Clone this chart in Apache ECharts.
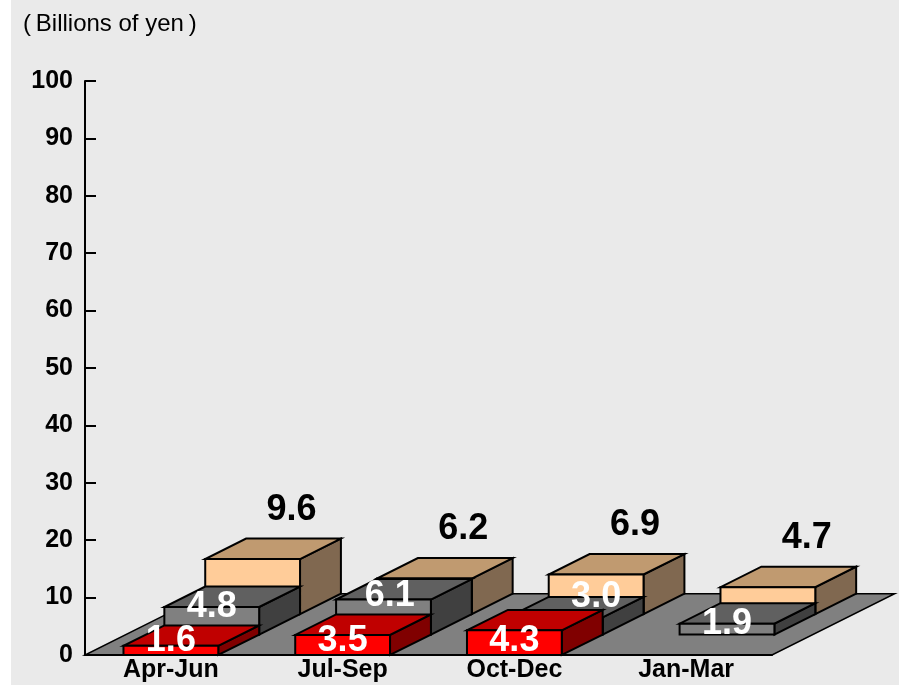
<!DOCTYPE html>
<html>
<head>
<meta charset="utf-8">
<script src="https://cdn.jsdelivr.net/npm/echarts@6/dist/echarts.min.js"></script>
<style>
  html, body { margin: 0; padding: 0; background: #ffffff; }
  #chart { position: absolute; left: 11px; top: 0; width: 888px; height: 685px; }
</style>
</head>
<body>
<div id="chart"></div>
<script>
// Quarterly values, billions of yen
const categories   = ['Apr-Jun', 'Jul-Sep', 'Oct-Dec', 'Jan-Mar'];
const frontValues  = [1.6, 3.5, 4.3, null];  // red, front row
const middleValues = [4.8, 6.1, 3.0, 1.9];   // gray, middle row
const backValues   = [9.6, 6.2, 6.9, 4.7];   // peach, back row

// Pseudo-3D geometry, as fractions of one category band
const BAR_FRAC = 0.552;    // bar width
const DEPTH_FRAC = 0.238;  // horizontal depth of one row
const RISE = 0.5;          // vertical rise per unit of depth
const ROWS = 3;

const FONT = '"Liberation Sans", Arial, Helvetica, sans-serif';

const palettes = {
  front:  { face: '#ff0000', top: '#c00000', side: '#800000' },
  middle: { face: '#808080', top: '#606060', side: '#404040' },
  back:   { face: '#ffcc99', top: '#c09a70', side: '#806850' }
};

function geometry(api, i, v, row) {
  const band = api.size([1, 0])[0];
  const w = band * BAR_FRAC;
  const dx = band * DEPTH_FRAC;
  const dy = dx * RISE;
  const base = api.coord([i, 0]);
  const top = api.coord([i, v]);
  const x0 = base[0] - w / 2 + row * dx;
  const x1 = x0 + w;
  const yb = base[1] - row * dy;
  const yt = top[1] - row * dy;
  return { x0, x1, yb, yt, dx, dy, cx: (x0 + x1) / 2 };
}

function boxShapes(g, pal) {
  const line = { stroke: '#000', lineWidth: 2, lineJoin: 'miter' };
  return [
    { type: 'polygon', shape: { points: [[g.x1, g.yb], [g.x1, g.yt], [g.x1 + g.dx, g.yt - g.dy], [g.x1 + g.dx, g.yb - g.dy]] },
      style: Object.assign({ fill: pal.side }, line) },
    { type: 'polygon', shape: { points: [[g.x0, g.yt], [g.x1, g.yt], [g.x1 + g.dx, g.yt - g.dy], [g.x0 + g.dx, g.yt - g.dy]] },
      style: Object.assign({ fill: pal.top }, line) },
    { type: 'rect', shape: { x: g.x0, y: g.yt, width: g.x1 - g.x0, height: g.yb - g.yt },
      style: Object.assign({ fill: pal.face }, line) }
  ];
}

function valueText(text, x, y, color) {
  return {
    type: 'text', z2: 10,
    style: { text: text, x: x, y: y, fill: color, align: 'center', verticalAlign: 'middle',
             font: 'bold 36px ' + FONT }
  };
}

function fmt(v) { return v.toFixed(1); }

// Back row: peach boxes, value written above the box
function renderBack(params, api) {
  const i = api.value(0), v = api.value(1);
  if (v == null || isNaN(v)) return;
  const g = geometry(api, i, v, 2);
  const kids = boxShapes(g, palettes.back);
  kids.push(valueText(fmt(v), g.cx + g.dx * 0.95, g.yt - g.dy - 29, '#000'));
  return { type: 'group', children: kids };
}

// Middle row: gray boxes; the label slides back along the top face
// when the front box would hide it
function renderMiddle(params, api) {
  const i = api.value(0), v = api.value(1);
  if (v == null || isNaN(v)) return;
  const g = geometry(api, i, v, 1);
  const kids = boxShapes(g, palettes.middle);
  let t = 0;
  const fv = frontValues[i];
  if (fv != null) {
    const fg = geometry(api, i, fv, 0);
    const limit = fg.yt - fg.dy - 18;
    t = Math.max(0, Math.min(1, (g.yt - limit) / g.dy));
  }
  kids.push(valueText(fmt(v), g.cx + t * g.dx, g.yt - t * g.dy, '#fff'));
  return { type: 'group', children: kids };
}

// Front row: red boxes
function renderFront(params, api) {
  const i = api.value(0), v = api.value(1);
  if (v == null || isNaN(v)) return;
  const g = geometry(api, i, v, 0);
  const kids = boxShapes(g, palettes.front);
  const ly = Math.min((g.yt + g.yb) / 2, g.yb - 14);
  kids.push(valueText(fmt(v), g.cx, ly, '#fff'));
  return { type: 'group', children: kids };
}

// Floor plane under all rows
function renderFloor(params, api) {
  const cs = params.coordSys;
  const band = cs.width / categories.length;
  const dx = band * DEPTH_FRAC * ROWS;
  const dy = dx * RISE;
  const yb = cs.y + cs.height;
  return {
    type: 'polygon',
    shape: { points: [[cs.x, yb], [cs.x + cs.width, yb], [cs.x + cs.width + dx, yb - dy], [cs.x + dx, yb - dy]] },
    style: { fill: '#808080', stroke: '#000', lineWidth: 1.5 }
  };
}

const toPairs = arr => arr.map((v, i) => [i, v]);

const chart = echarts.init(document.getElementById('chart'), null, { renderer: 'canvas' });
chart.setOption({
  animation: false,
  backgroundColor: '#eaeaea',
  graphic: [{
    type: 'text', left: 12, top: 12,
    style: { text: '(\u2009Billions of yen\u2009)', fill: '#000', font: '24px ' + FONT }
  }],
  grid: { left: 74, right: 127, top: 81, bottom: 30, containLabel: false },
  xAxis: {
    type: 'category', data: categories, boundaryGap: true, z: 5,
    axisLine: { lineStyle: { color: '#000', width: 2 } },
    axisTick: { inside: true, length: 12, interval: 0, lineStyle: { color: '#000', width: 2 } },
    axisLabel: { color: '#000', fontWeight: 'bold', fontSize: 25, fontFamily: FONT, margin: 3, interval: 0 },
    splitLine: { show: false }
  },
  yAxis: {
    type: 'value', min: 0, max: 100, interval: 10, z: 5,
    axisLine: { show: true, lineStyle: { color: '#000', width: 2 } },
    axisTick: { show: true, inside: true, length: 11, lineStyle: { color: '#000', width: 2 } },
    axisLabel: { color: '#000', fontWeight: 'bold', fontSize: 25, fontFamily: FONT, margin: 12 },
    splitLine: { show: false }
  },
  series: [
    { type: 'custom', name: 'floor', data: [[0, 0]], renderItem: renderFloor, silent: true, encode: { x: 0, y: 1 } },
    { type: 'custom', name: 'back', data: toPairs(backValues), renderItem: renderBack, encode: { x: 0, y: 1 } },
    { type: 'custom', name: 'middle', data: toPairs(middleValues), renderItem: renderMiddle, encode: { x: 0, y: 1 } },
    { type: 'custom', name: 'front', data: toPairs(frontValues), renderItem: renderFront, encode: { x: 0, y: 1 } }
  ]
});
</script>
</body>
</html>
